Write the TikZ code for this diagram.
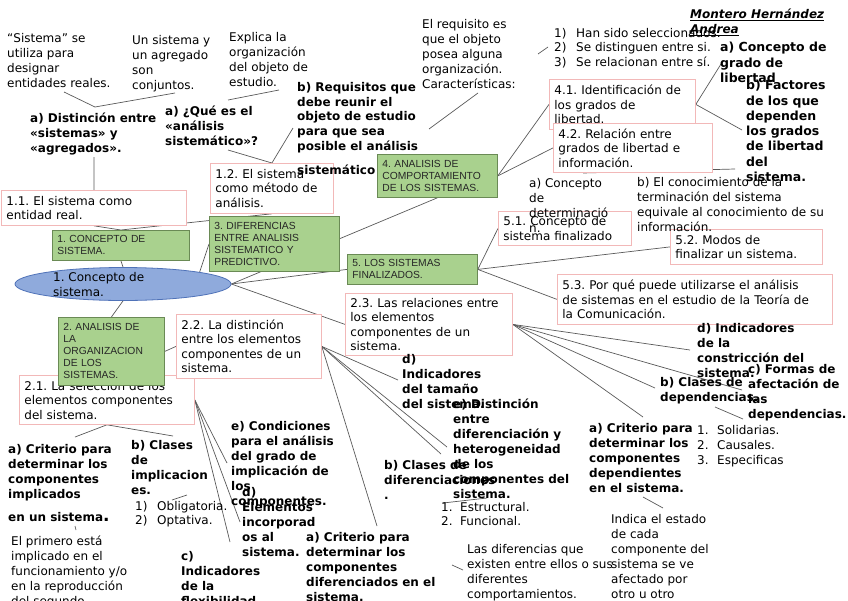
\documentclass[tikz,border=0pt]{standalone}
\usepackage{fontspec}
\setmainfont{DejaVu Sans}
\newfontfamily\gfont{Liberation Sans}
\usetikzlibrary{shapes.geometric}
\definecolor{linec}{HTML}{595959}
\definecolor{pinkc}{HTML}{F2B8B8}
\definecolor{gfill}{HTML}{A9D18E}
\definecolor{gborder}{HTML}{6A8A55}
\definecolor{gtext}{HTML}{262626}
\definecolor{efill}{HTML}{8FAADC}
\definecolor{eborder}{HTML}{4F72B8}
\pgfdeclarelayer{background}
\pgfsetlayers{background,main}
\frenchspacing
\tikzset{
 ln/.style={draw=linec, line width=0.7pt},
 txt/.style={anchor=north west, inner sep=0pt, align=left, font=\fontsize{12}{15}\selectfont},
 btxt/.style={anchor=north west, inner sep=0pt, align=left, font=\fontsize{12}{15}\selectfont\bfseries},
 pbox/.style={draw=pinkc, fill=white, line width=0.8pt, anchor=north west, inner xsep=5pt, inner ysep=1pt, align=left, font=\fontsize{12}{14.5}\selectfont},
 gbox/.style={draw=gborder, fill=gfill, line width=0.8pt, anchor=north west, inner xsep=5pt, inner ysep=2pt, align=left, text=gtext, font=\gfont\fontsize{10.3}{12}\selectfont},
}
\newcommand{\nb}[1]{\makebox[22pt][l]{#1}}
\begin{document}
\frenchspacing
\begin{tikzpicture}[x=1pt,y=-1pt]
\useasboundingbox (0,0) rectangle (848,600);

% ---------- pink boxes ----------
\node[pbox, text width=175pt, minimum height=35pt] (b11) at (1,190) {1.1. El sistema como\\entidad real.};
\node[pbox, text width=113pt, minimum height=50pt] (b12) at (210,163) {1.2. El sistema\\como método de\\análisis.};
\node[pbox, text width=165pt, minimum height=49pt] (b21) at (19,375) {2.1. La selección de los\\elementos componentes\\del sistema.};
\node[pbox, text width=135pt, minimum height=64pt] (b22) at (176,314) {2.2. La distinción\\entre los elementos\\componentes de un\\sistema.};
\node[pbox, text width=157pt, minimum height=62pt] (b23) at (345,293) {2.3. Las relaciones entre\\los elementos\\componentes de un\\sistema.};
\node[pbox, text width=136pt, minimum height=50pt] (b41) at (549,79) {4.1. Identificación de\\los grados de\\libertad.};
\node[pbox, text width=149pt, minimum height=49pt] (b42) at (553,123) {4.2. Relación entre\\grados de libertad e\\información.};
\node[pbox, text width=123pt, minimum height=34pt] (b51) at (498,211) {5.1. Concepto de\\sistema finalizado};
\node[pbox, text width=142pt, minimum height=35pt] (b52) at (670,229) {5.2. Modos de\\finalizar un sistema.};
\node[pbox, text width=265pt, minimum height=50pt] (b53) at (557,274) {5.3. Por qué puede utilizarse el análisis\\de sistemas en el estudio de la Teoría de\\la Comunicación.};

% ---------- green boxes ----------
\node[gbox, text width=127pt, minimum height=30pt] (g1) at (52,230) {1. CONCEPTO DE\\SISTEMA.};
\node[gbox, text width=120pt, minimum height=55pt] (g3) at (209,216) {3. DIFERENCIAS\\ENTRE ANALISIS\\SISTEMATICO Y\\PREDICTIVO.};
\node[gbox, text width=110pt, minimum height=43pt] (g4) at (377,154) {4. ANALISIS DE\\COMPORTAMIENTO\\DE LOS SISTEMAS.};
\node[gbox, text width=120pt, minimum height=30pt] (g5) at (347,254) {5. LOS SISTEMAS\\FINALIZADOS.};
\node[gbox, text width=96pt, minimum height=68pt] (g2) at (58,317) {2. ANALISIS DE\\LA\\ORGANIZACION\\DE LOS\\SISTEMAS.};

% ---------- central ellipse ----------
\node[ellipse, draw=eborder, fill=efill, line width=0.8pt, minimum width=216pt, minimum height=33pt, inner sep=0pt] (ell) at (123,284) {};
\node[txt] (ellT) at (53,272) {1. Concepto de\\sistema.};

% ---------- free texts ----------
\node[txt] (sis) at (7,33) {“Sistema” se\\utiliza para\\designar\\entidades reales.};
\node[txt] (agr) at (132,35) {Un sistema y\\un agregado\\son\\conjuntos.};
\node[txt] (exp) at (229,32) {Explica la\\organización\\del objeto de\\estudio.};
\node[txt] (req) at (422,19) {El requisito es\\que el objeto\\posea alguna\\organización.\\Características:};
\node[txt, font=\fontsize{12}{14.5}\selectfont] (lst) at (554,28) {\nb{1)}Han sido seleccionados.\\\nb{2)}Se distinguen entre si.\\\nb{3)}Se relacionan entre sí.};
\node[btxt, font=\fontsize{12}{15}\selectfont\bfseries\itshape] (author) at (690,9) {\underline{Montero Hernández}\\\underline{Andrea}};
\node[btxt, font=\fontsize{12.5}{15.5}\selectfont\bfseries] (aGrado) at (720,42) {a) Concepto de\\grado de\\libertad};
\node[btxt, font=\fontsize{12.5}{15.3}\selectfont\bfseries] (bFact) at (746,80) {b) Factores\\de los que\\dependen\\los grados\\de libertad\\del\\sistema.};
\node[txt] (conc) at (529,178) {a) Concepto\\de\\determinació\\n.};
\node[txt] (conoc) at (637,177) {b) El conocimiento de la\\terminación del sistema\\equivale al conocimiento de su\\información.};
\node[btxt] (aDist) at (30,113) {a) Distinción entre\\«sistemas» y\\«agregados».};
\node[btxt] (aQue) at (165,106) {a) ¿Qué es el\\«análisis\\sistemático»?};
\node[btxt, font=\fontsize{12}{14.8}\selectfont\bfseries] (bReq) at (297,82) {b) Requisitos que\\debe reunir el\\objeto de estudio\\para que sea\\posible el análisis\\[9pt]sistemático};
\node[btxt] (aCrit1) at (8,444) {a) Criterio para\\determinar los\\componentes\\implicados\\[8pt]en un sistema{\fontsize{17}{15}\selectfont .}};
\node[txt] (prim) at (11,536) {El primero está\\implicado en el\\funcionamiento y/o\\en la reproducción\\del segundo.};
\node[btxt] (bClImp) at (131,440) {b) Clases\\de\\implicacion\\es.};
\node[txt, font=\fontsize{12}{14.5}\selectfont] (impl) at (135,501) {\nb{1)}Obligatoria.\\\nb{2)}Optativa.};
\node[btxt] (cInd) at (181,551) {c)\\Indicadores\\de la\\flexibilidad};
\node[btxt] (dElem) at (242,487) {d)\\Elementos\\incorporad\\os al\\sistema.};
\node[btxt] (eCond) at (231,421) {e) Condiciones\\para el análisis\\del grado de\\implicación de\\los\\componentes.};
\node[btxt] (dTam) at (402,354) {d)\\Indicadores\\del tamaño\\del sistema.};
\node[btxt] (eDist) at (453,399) {e) Distinción\\entre\\diferenciación y\\heterogeneidad\\de los\\componentes del\\sistema.};
\node[btxt] (bClDif) at (384,460) {b) Clases de\\diferenciaciones\\.};
\node[txt, font=\fontsize{12}{14.5}\selectfont] (difl) at (441,502) {\makebox[19pt][l]{1.}Estructural.\\\makebox[19pt][l]{2.}Funcional.};
\node[btxt] (aCritDif) at (306,532) {a) Criterio para\\determinar los\\componentes\\diferenciados en el\\sistema.};
\node[txt] (lasdif) at (467,544) {Las diferencias que\\existen entre ellos o sus\\diferentes\\comportamientos.};
\node[btxt] (aCritDep) at (589,423) {a) Criterio para\\determinar los\\componentes\\dependientes\\en el sistema.};
\node[txt] (indica) at (611,514) {Indica el estado\\de cada\\componente del\\sistema se ve\\afectado por\\otro u otro};
\node[txt] (depl) at (697,425) {\makebox[20pt][l]{1.}Solidarias.\\\makebox[20pt][l]{2.}Causales.\\\makebox[20pt][l]{3.}Especificas};
\node[btxt] (bClDep) at (660,377) {b) Clases de\\dependencias.};
\node[btxt] (cForm) at (748,364) {c) Formas de\\afectación de\\las\\dependencias.};
\node[btxt] (dConst) at (697,323) {d) Indicadores\\de la\\constricción del\\sistema.};

% ---------- connector end points ----------
\coordinate (p1) at (64,92);
\coordinate (p2) at (95,107);
\coordinate (p3) at (175,93);
\coordinate (p4) at (228,100);
\coordinate (p5) at (279,90);
\coordinate (p6) at (228,150);
\coordinate (p7) at (293,128);
\coordinate (p8) at (429,129);
\coordinate (p9) at (478,93);
\coordinate (p10) at (538,54);
\coordinate (p11) at (548,47);
\coordinate (p12) at (721,64);
\coordinate (p13) at (742,130);
\coordinate (p14) at (583,173);
\coordinate (p15) at (735,169);
\coordinate (p16) at (75,437);
\coordinate (p17) at (173,436);
\coordinate (p18) at (230,542);
\coordinate (p19) at (227,463);
\coordinate (p20) at (240,522);
\coordinate (p21) at (172,500);
\coordinate (p22) at (187,495);
\coordinate (p23) at (75,526);
\coordinate (p24) at (76,530);
\coordinate (p25) at (398,380);
\coordinate (p26) at (447,447);
\coordinate (p27) at (441,454);
\coordinate (p28) at (377,526);
\coordinate (p29) at (443,503);
\coordinate (p30) at (487,498);
\coordinate (p31) at (452,565);
\coordinate (p32) at (463,570);
\coordinate (p33) at (690,350);
\coordinate (p34) at (742,390);
\coordinate (p35) at (655,388);
\coordinate (p36) at (643,417);
\coordinate (p37) at (715,407);
\coordinate (p38) at (743,419);
\coordinate (p39) at (643,497);
\coordinate (p40) at (663,508);
\coordinate (pa) at (94,157);

% ---------- connectors ----------
\begin{pgfonlayer}{background}
\draw[ln] (p2) -- (p1);
\draw[ln] (p2) -- (p3);
\draw[ln] (p4) -- (p5);
\draw[ln] (p6) -- (b12.north);
\draw[ln] (b12.north) -- (p7);
\draw[ln] (p8) -- (p9);
\draw[ln] (p10) -- (p11);
\draw[ln] (g4.east) -- (b41.west);
\draw[ln] (g4.east) -- (b42.west);
\draw[ln] (b41.east) -- (p12);
\draw[ln] (b41.east) -- (p13);
\draw[ln] (p14) -- (p15);
\draw[ln] (ell.east) -- (g4.south);
\draw[ln] (ell.east) -- (g5.west);
\draw[ln] (ell.east) -- (b23.west);
\draw[ln] (ell.north east) -- (g3.west);
\draw[ln] (ell.north) -- (g1.south);
\draw[ln] (g1.north) -- (b11.south);
\draw[ln] (g1.north) -- (b12.south);
\draw[ln] (b11.north) -- (pa);
\draw[ln] (ell.south) -- (g2.north);
\draw[ln] (g2.east) -- (b22.west);
\draw[ln] (b21.south) -- (p16);
\draw[ln] (b21.south) -- (p17);
\draw[ln] (b21.east) -- (p18);
\draw[ln] (b21.east) -- (p19);
\draw[ln] (b21.east) -- (p20);
\draw[ln] (p21) -- (p22);
\draw[ln] (p23) -- (p24);
\draw[ln] (b22.east) -- (p25);
\draw[ln] (b22.east) -- (p26);
\draw[ln] (b22.east) -- (p27);
\draw[ln] (b22.east) -- (p28);
\draw[ln] (p29) -- (p30);
\draw[ln] (p31) -- (p32);
\draw[ln] (b23.east) -- (p33);
\draw[ln] (b23.east) -- (p34);
\draw[ln] (b23.east) -- (p35);
\draw[ln] (b23.east) -- (p36);
\draw[ln] (p37) -- (p38);
\draw[ln] (p39) -- (p40);
\draw[ln] (g5.east) -- (b51.west);
\draw[ln] (g5.east) -- (b52.west);
\draw[ln] (g5.east) -- (b53.west);
\end{pgfonlayer}
\end{tikzpicture}
\end{document}
